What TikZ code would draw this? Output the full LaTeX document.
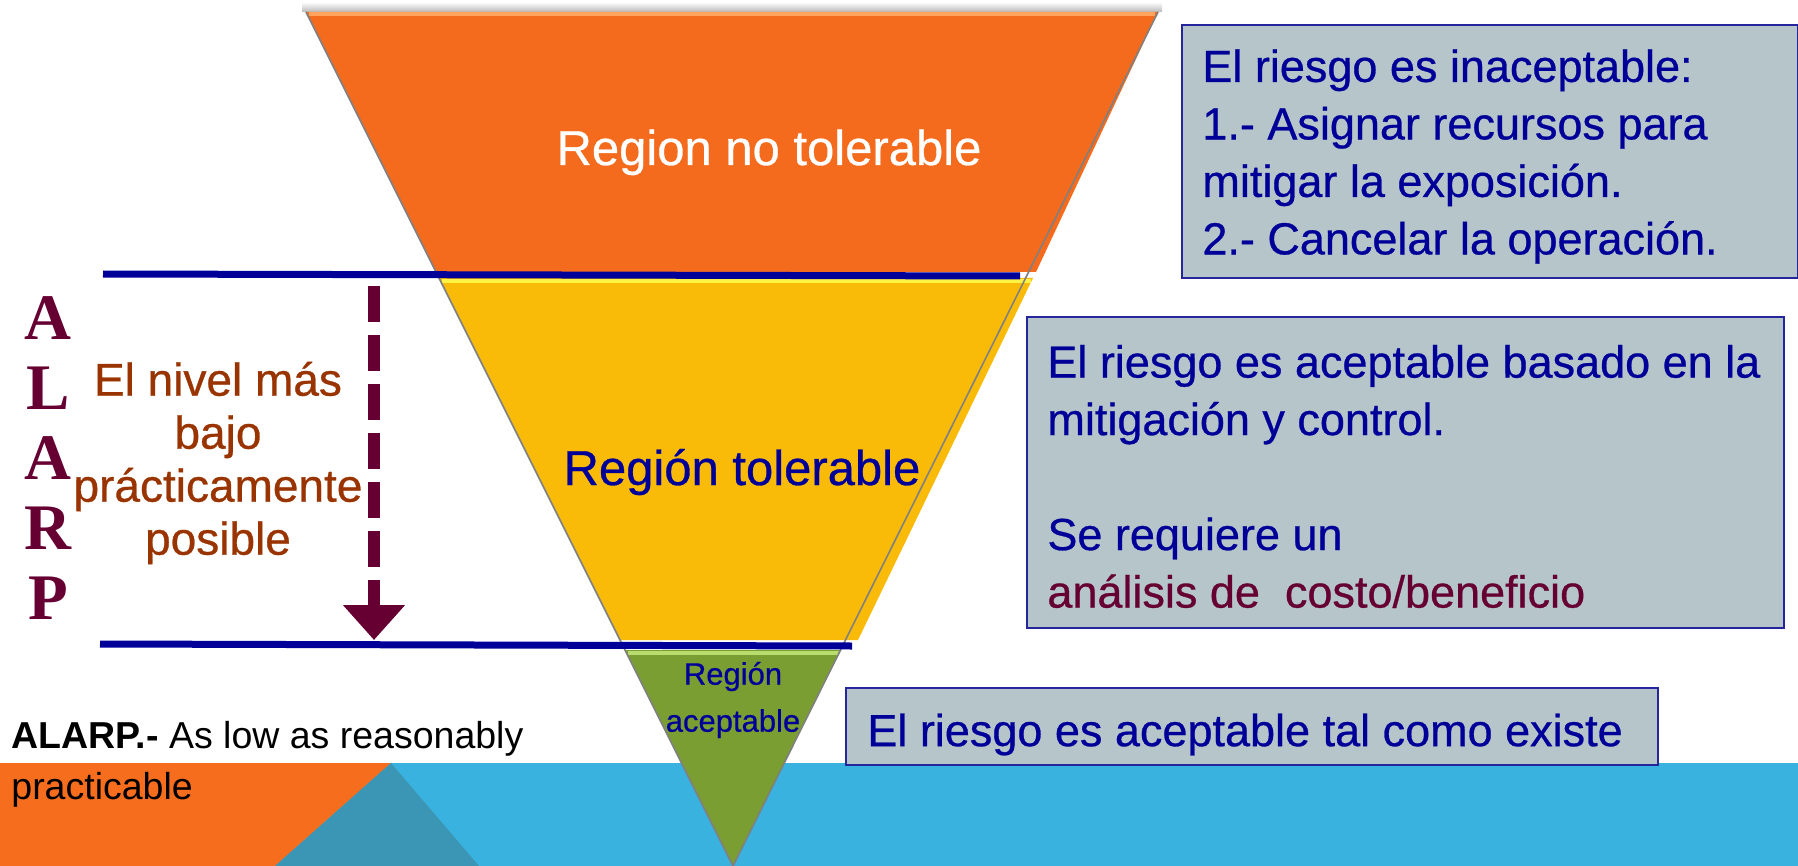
\documentclass[tikz,border=0pt]{standalone}
\usepackage{fontspec}
\setmainfont{Liberation Sans}
\newfontface\medsans{Liberation Sans}[FakeBold=0.6]
\newfontfamily\alarpfont{Liberation Serif}
\usepackage{tikz}
\usetikzlibrary{arrows.meta}
\usetikzlibrary{positioning}

\definecolor{riskblue}{HTML}{000099}
\definecolor{boxgray}{HTML}{B5C5CA}
\definecolor{boxline}{HTML}{26269C}
\definecolor{alarpred}{HTML}{660033}
\definecolor{rustbrown}{HTML}{993300}
\definecolor{bandorange}{HTML}{F46B1E}
\definecolor{bandyellow}{HTML}{F9BB07}
\definecolor{bandgreen}{HTML}{7A9E32}
\definecolor{floorblue}{HTML}{3AB2DF}
\definecolor{floorteal}{HTML}{3A96B4}
\definecolor{floororange}{HTML}{F76D1E}

\begin{document}
\begin{tikzpicture}[x=0.5pt,y=-0.5pt,
  riskbox/.style={draw=boxline,line width=1pt,fill=boxgray,inner sep=0pt,anchor=north west},
  risktext/.style={text=riskblue,font=\medsans\fontsize{22.5}{28.75}\selectfont,align=left,inner sep=0pt},
  limitline/.style={draw=riskblue,line width=3.5pt}]
\useasboundingbox (0,0) rectangle (1798,866);
%Floor band

    \fill[floorblue] (0,763) rectangle (1798,866);
    \fill[floororange] (0,763) -- (391,763) -- (275,866) -- (0,866) -- cycle;
    \fill[floorteal] (391,763) -- (479,866) -- (275,866) -- cycle;

%Pyramid bands
    \shade[top color=white,bottom color=gray!55] (302,2) rectangle (1162,12);
    \fill[bandorange] (306,12) -- (1158,12) -- (1036,272) -- (436,272) -- cycle;
    \fill[bandyellow] (439,278) -- (1033,278) -- (858,640) -- (620,640) -- cycle;
    \fill[bandgreen] (625,650) -- (841,650) -- (733,866) -- cycle;
    \draw[line width=2pt,color={rgb,255:red,255;green,164;blue,92}] (309,14) -- (1155,14);
    \draw[line width=2pt,color={rgb,255:red,255;green,244;blue,69}] (442,281) -- (1031,281);
    \draw[line width=2pt,color={rgb,255:red,184;green,220;blue,110}] (628,653) -- (839,653);
    \draw[gray,line width=0.8pt] (306,12) -- (733,866) -- (1158,12);

    \node[text=white,font=\medsans\fontsize{24.5}{29}\selectfont,anchor=base] (notol) at (769,165) {Region no tolerable};
    \node[text=riskblue,font=\medsans\fontsize{24.5}{29}\selectfont,anchor=base] (tol) at (742,485) {Región tolerable};
    \node[text=riskblue,font=\medsans\fontsize{15.5}{23.5}\selectfont,align=center,inner sep=0pt] (acep) at (733,700) {Región\\aceptable};

%ALARP limits
    \coordinate (topL) at (103,274);
    \coordinate (topR) at (1020,276);
    \coordinate (botL) at (100,644);
    \coordinate (botR) at (852,646);
    \draw[limitline] (topL) -- (topR);
    \draw[limitline] (botL) -- (botR);

    \node[text=alarpred,font=\alarpfont\fontsize{32.5}{35}\selectfont\bfseries,align=center,inner sep=0pt] (alarp) at (48,458) {A\\L\\A\\R\\P};
    \node[text=rustbrown,font=\medsans\fontsize{23}{26.5}\selectfont,align=center,inner sep=0pt] (lowest) at (218,463) {El nivel más\\bajo\\prácticamente\\posible};

    \coordinate (arrtop) at (374,286);
    \coordinate (arrtip) at (374,640);
    \draw[alarpred,line width=6pt,dash pattern=on 18pt off 6.5pt,-{Triangle[width=30pt,length=17.5pt]}] (arrtop) -- (arrtip);

%Risk boxes
    \node[riskbox,minimum width=308pt,minimum height=126.5pt] (boxno) at (1181,24) {};
    \node[risktext,right=10.5pt of boxno.west,yshift=-2.5pt] (txtno) {El riesgo es inaceptable:\\1.- Asignar recursos para\\mitigar la exposición.\\2.- Cancelar la operación.};

    \node[riskbox,minimum width=378.5pt,minimum height=155.5pt] (boxtol) at (1026,316) {};
    \node[risktext,right=10.5pt of boxtol.west,yshift=-2pt] (txttol) {El riesgo es aceptable basado en la\\mitigación y control.\\[28.75pt]Se requiere un\\\textcolor{alarpred}{análisis de~ costo/beneficio}};

    \node[riskbox,minimum width=406pt,minimum height=38.5pt] (boxac) at (845,687) {};
    \node[risktext,right=11pt of boxac.west,yshift=-4pt] (txtac) {El riesgo es aceptable tal como existe};

    \node[font=\fontsize{18.75}{25.5}\selectfont,align=left,anchor=west,inner sep=0pt] (alarpdef) at (11,764) {\textbf{ALARP.-} As low as reasonably\\practicable};
\end{tikzpicture}
\end{document}
